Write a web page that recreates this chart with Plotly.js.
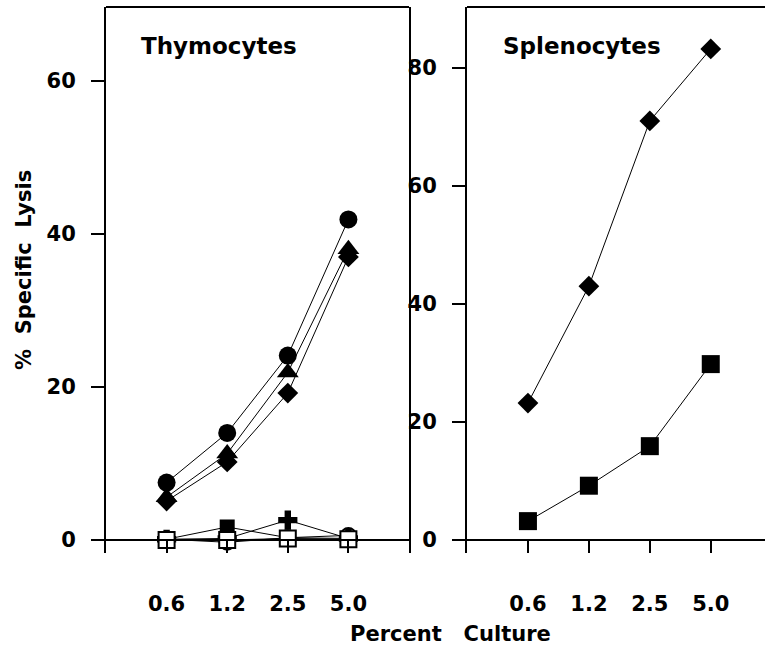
<!DOCTYPE html>
<html>
<head>
<meta charset="utf-8">
<script src="https://cdn.plot.ly/plotly-3.0.1.min.js"></script>
<style>html,body{margin:0;padding:0;background:#fff;}#chart{width:765px;height:653px;}</style>
</head>
<body>
<div id="chart"></div>
<script>
// ---- data ----
const cultureLabels = ["0.6", "1.2", "2.5", "5.0"];
const thymoCircle = [7.5, 14.0, 24.1, 41.9];
const thymoTriangle = [5.6, 11.3, 21.9, 38.0];
const thymoDiamond = [5.1, 10.2, 19.2, 37.0];
const thymoOpenCircle = [0.1, -0.3, 0.3, 0.6];
const thymoCross = [0.1, 0.2, 2.6, 0.2];
const thymoFilledSquare = [0.1, 1.7, 0.3, 0.2];
const thymoOpenSquare = [0.0, 0.0, 0.2, 0.1];
const splenoDiamond = [23.2, 43.0, 71.0, 83.2];
const splenoSquare = [3.2, 9.2, 15.9, 29.8];
const thymoTicks = [0, 20, 40, 60];
const splenoTicks = [0, 20, 40, 60, 80];

function series(y, symbol, size, xa, ya, fill, lw) {
  return {
    x: cultureLabels, y: y, xaxis: xa, yaxis: ya,
    type: "scatter", mode: "lines+markers",
    line: {color: "#000", width: 1},
    marker: {symbol: symbol, size: size, color: fill || "#000",
             line: {color: "#000", width: lw || 0}},
    cliponaxis: false, showlegend: false, hoverinfo: "skip"
  };
}

const traces = [
  series(thymoOpenCircle, "circle", 15, "x", "y", "#fff", 2),
  series(thymoCross, "cross", 16, "x", "y"),
  series(thymoFilledSquare, "square", 15, "x", "y"),
  series(thymoOpenSquare, "square", 16, "x", "y", "#fff", 2),
  series(thymoDiamond, "diamond", 16, "x", "y"),
  series(thymoTriangle, "triangle-up", 19, "x", "y"),
  series(thymoCircle, "circle", 18, "x", "y"),
  series(splenoDiamond, "diamond", 16, "x2", "y2"),
  series(splenoSquare, "square", 18, "x2", "y2")
];

const W = 765;
const tickFont = {family: "DejaVu Sans", size: 21, color: "#000", weight: "bold"};
const xCommon = {
  type: "category", showline: false, zeroline: false, showgrid: false,
  ticks: "inside", ticklen: 13, tickwidth: 2, tickcolor: "#000",
  tickfont: tickFont, ticklabelstandoff: 36, fixedrange: true
};
const yCommon = {
  showgrid: false, zeroline: false, showline: true, linewidth: 2, linecolor: "#000",
  ticks: "outside", ticklen: 13, tickwidth: 2, tickcolor: "#000",
  tickfont: tickFont, ticklabelstandoff: 11, fixedrange: true
};
const titleFont = {family: "DejaVu Sans", size: 23, color: "#000", weight: "bold"};
const axisTitleFont = {family: "DejaVu Sans", size: 21, color: "#000", weight: "bold"};

const layout = {
  width: 765, height: 653,
  margin: {l: 0, r: 0, t: 7, b: 100},
  paper_bgcolor: "#fff", plot_bgcolor: "#fff",
  showlegend: false,
  xaxis: Object.assign({}, xCommon, {domain: [106 / W, 409 / W], range: [-1, 4], anchor: "y"}),
  yaxis: Object.assign({}, yCommon, {domain: [0, 1], range: [-1.70, 69.67], tickvals: thymoTicks, mirror: true, anchor: "x"}),
  xaxis2: Object.assign({}, xCommon, {domain: [467 / W, 1], range: [-1, 3.89], anchor: "y2"}),
  yaxis2: Object.assign({}, yCommon, {domain: [0, 1], range: [-2.2, 90.3], tickvals: splenoTicks, anchor: "x2"}),
  shapes: [
    {type: "line", xref: "x domain", yref: "y domain", x0: 0, x1: 1, y0: 1, y1: 1, line: {color: "#000", width: 2}},
    {type: "line", xref: "x domain", yref: "y", x0: 0, x1: 1, y0: 0, y1: 0, line: {color: "#000", width: 2}},
    {type: "line", xref: "x2 domain", yref: "y2 domain", x0: 0, x1: 1, y0: 1, y1: 1, line: {color: "#000", width: 2}},
    {type: "line", xref: "x2 domain", yref: "y2", x0: 0, x1: 1, y0: 0, y1: 0, line: {color: "#000", width: 2}}
  ],
  annotations: [
    {text: "Thymocytes", xref: "paper", yref: "paper", x: 139 / W, y: 1 - (46 - 7) / 546,
     xanchor: "left", yanchor: "middle", showarrow: false, font: titleFont},
    {text: "Splenocytes", xref: "paper", yref: "paper", x: 501 / W, y: 1 - (46 - 7) / 546,
     xanchor: "left", yanchor: "middle", showarrow: false, font: titleFont},
    {text: "%\u00a0\u00a0Specific\u00a0\u00a0Lysis", xref: "paper", yref: "paper", x: 24 / W, y: 1 - (270 - 7) / 546,
     xanchor: "center", yanchor: "middle", textangle: -90, showarrow: false, font: axisTitleFont},
    {text: "Percent\u00a0\u00a0\u00a0Culture", xref: "paper", yref: "paper", x: 450 / W, y: -(634 - 553) / 546,
     xanchor: "center", yanchor: "middle", showarrow: false, font: axisTitleFont}
  ]
};

Plotly.newPlot("chart", traces, layout, {displayModeBar: false, staticPlot: true});
</script>
</body>
</html>
